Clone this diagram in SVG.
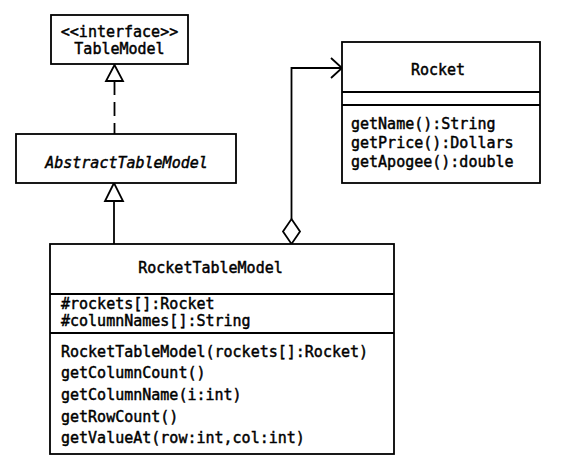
<svg xmlns="http://www.w3.org/2000/svg" width="565" height="461" viewBox="0 0 565 461">
<style>
.box{fill:#fff;stroke:#000;stroke-width:1.8}
.ln{fill:none;stroke:#000;stroke-width:1.8}
text{font-family:"DejaVu Sans Mono","Liberation Mono",monospace;font-size:15px;fill:#000;stroke:#000;stroke-width:0.45}
.c{text-anchor:middle}
.i{font-style:italic}
</style>
<rect width="565" height="461" fill="#fff"/>
<g id="connectors">
<line class="ln" x1="114.5" y1="81" x2="114.5" y2="134" stroke-dasharray="14 7"/>
<polygon class="box" points="114.5,65 106,81 123,81"/>
<line class="ln" x1="114" y1="201" x2="114" y2="244"/>
<polygon class="box" points="114,183 105,201 123,201"/>
<polyline class="ln" points="291.5,219 291.5,68 342,68"/>
<polyline class="ln" points="331,58 342,68 331,78"/>
<polygon class="box" points="291.5,219 300,231.5 291.5,244 283,231.5"/>
</g>
<g id="TableModel">
<rect class="box" x="51" y="15" width="137" height="49"/>
<text class="c" x="119.5" y="37">&lt;&lt;interface&gt;&gt;</text>
<text class="c" x="119.5" y="54">TableModel</text>
</g>
<g id="AbstractTableModel">
<rect class="box" x="16" y="134" width="220" height="49"/>
<text class="c i" x="126.5" y="168">AbstractTableModel</text>
</g>
<g id="Rocket">
<rect class="box" x="342" y="42" width="198" height="141"/>
<line class="ln" x1="342" y1="92" x2="540" y2="92"/>
<line class="ln" x1="342" y1="105" x2="540" y2="105"/>
<text class="c" x="438" y="75">Rocket</text>
<text x="351" y="129">getName():String</text>
<text x="351" y="148">getPrice():Dollars</text>
<text x="351" y="167">getApogee():double</text>
</g>
<g id="RocketTableModel">
<rect class="box" x="50" y="244" width="344" height="210"/>
<line class="ln" x1="50" y1="294" x2="394" y2="294"/>
<line class="ln" x1="50" y1="333" x2="394" y2="333"/>
<text class="c" x="210.5" y="273">RocketTableModel</text>
<text x="61" y="309">#rockets[]:Rocket</text>
<text x="61" y="326">#columnNames[]:String</text>
<text x="61" y="357">RocketTableModel(rockets[]:Rocket)</text>
<text x="61" y="378">getColumnCount()</text>
<text x="61" y="400">getColumnName(i:int)</text>
<text x="61" y="422">getRowCount()</text>
<text x="61" y="443">getValueAt(row:int,col:int)</text>
</g>
</svg>
